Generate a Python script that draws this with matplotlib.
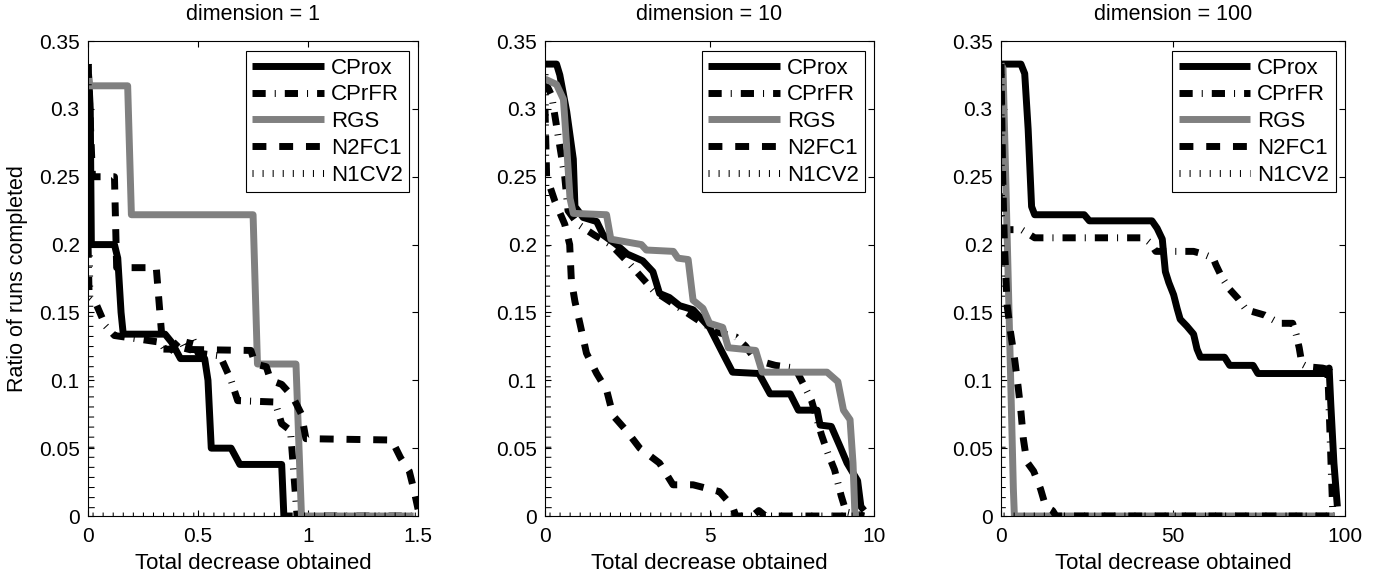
import matplotlib
matplotlib.use("Agg")
import matplotlib.pyplot as plt

plt.rcParams['font.family'] = ['Liberation Sans', 'DejaVu Sans']
plt.rcParams['font.size'] = 15

# ---- data: dimension = 1 ----
cprox_1_x = [0, 0.01, 0.015, 0.12, 0.135, 0.15, 0.16, 0.35, 0.38, 0.42, 0.53, 0.545, 0.56, 0.65, 0.69, 0.88, 0.89, 0.93]
cprox_1_y = [0.333, 0.30, 0.2, 0.2, 0.19, 0.15, 0.134, 0.134, 0.128, 0.116, 0.116, 0.1, 0.05, 0.05, 0.038, 0.038, 0.0, 0.0]
cprfr_1_x = [0, 0.005, 0.04, 0.08, 0.12, 0.33, 0.36, 0.42, 0.45, 0.47, 0.5, 0.6, 0.65, 0.68, 0.85, 0.88, 0.92, 0.95, 1.5]
cprfr_1_y = [0.2, 0.16, 0.155, 0.14, 0.133, 0.128, 0.12, 0.13, 0.12, 0.133, 0.12, 0.118, 0.1, 0.085, 0.084, 0.068, 0.063, 0.0, 0.0]
rgs_1_x = [0, 0.005, 0.18, 0.197, 0.75, 0.77, 0.945, 0.97, 1.48]
rgs_1_y = [0.33, 0.317, 0.317, 0.222, 0.222, 0.112, 0.112, 0.0, 0.0]
n2fc1_1_x = [0, 0.02, 0.12, 0.13, 0.31, 0.34, 0.74, 0.76, 0.81, 0.83, 0.88, 0.93, 0.97, 0.99, 1.38, 1.42, 1.46, 1.48, 1.5]
n2fc1_1_y = [0.333, 0.25, 0.25, 0.183, 0.183, 0.123, 0.122, 0.112, 0.11, 0.10, 0.097, 0.088, 0.075, 0.057, 0.056, 0.043, 0.033, 0.02, 0.005]
n1cv2_1_x = [0, 0.015, 1.5]
n1cv2_1_y = [0.333, 0.0, 0.0]

# ---- data: dimension = 10 ----
cprox_10_x = [0, 0.35, 0.45, 0.66, 0.86, 0.91, 1.16, 1.57, 1.77, 2.17, 2.5, 2.97, 3.28, 3.48, 3.78, 4.09, 4.5,
              5.0, 5.4, 5.7, 6.5, 6.84, 7.45, 7.7, 8.27, 8.36, 8.7, 8.97, 9.18, 9.5, 9.6, 9.7]
cprox_10_y = [0.333, 0.333, 0.325, 0.298, 0.263, 0.228, 0.22, 0.217, 0.207, 0.2, 0.193, 0.188, 0.18, 0.164, 0.161,
              0.155, 0.152, 0.139, 0.12, 0.106, 0.105, 0.09, 0.09, 0.078, 0.078, 0.067, 0.066, 0.051, 0.039, 0.026,
              0.007, 0.004]
cprfr_10_x = [0, 0.2, 0.4, 0.6, 0.7, 1.0, 1.5, 2.0, 2.6, 3.3, 3.8, 4.3, 4.8, 5.3, 5.8, 6.1, 6.4, 7.0, 7.6, 7.9,
              8.1, 8.4, 8.6, 8.8, 9.0, 9.15, 9.7]
cprfr_10_y = [0.32, 0.31, 0.28, 0.25, 0.225, 0.215, 0.207, 0.2, 0.185, 0.166, 0.158, 0.15, 0.142, 0.135, 0.132,
              0.125, 0.115, 0.111, 0.109, 0.095, 0.085, 0.06, 0.046, 0.034, 0.015, 0.003, 0.0]
rgs_10_x = [0, 0.35, 0.56, 0.66, 0.76, 0.86, 1.87, 2.0, 2.93, 3.08, 3.9, 4.04, 4.35, 4.5, 4.8, 5.0, 5.4, 5.57,
            6.4, 6.6, 8.57, 8.9, 9.07, 9.27, 9.36, 9.42, 9.6]
rgs_10_y = [0.322, 0.318, 0.307, 0.272, 0.234, 0.223, 0.222, 0.204, 0.2, 0.196, 0.195, 0.19, 0.189, 0.159, 0.153,
            0.142, 0.139, 0.124, 0.122, 0.106, 0.106, 0.099, 0.078, 0.071, 0.039, 0.0, 0.0]
n2fc1_10_x = [0, 0.05, 0.3, 0.6, 0.75, 0.8, 0.91, 1.06, 1.26, 1.57, 1.87, 2.07, 2.47, 2.88, 3.48, 3.89, 4.5, 5.3,
              5.7, 5.8, 6.3, 6.5, 6.7, 9.7]
n2fc1_10_y = [0.3, 0.25, 0.232, 0.215, 0.2, 0.174, 0.158, 0.142, 0.12, 0.105, 0.093, 0.074, 0.063, 0.05, 0.039,
              0.023, 0.023, 0.018, 0.007, 0.0, 0.0, 0.004, 0.0, 0.0]
n1cv2_10_x = [0, 0.1, 9.8]
n1cv2_10_y = [0.333, 0.0, 0.0]

# ---- data: dimension = 100 ----
cprox_100_x = [0, 5.8, 6.9, 7.9, 8.9, 9.8, 24.2, 25.7, 43.9, 45.4, 46.9, 47.3, 47.8, 48.8, 50.2, 51.2, 52.1, 54,
               56, 57, 58, 65, 66.5, 73.3, 74.7, 94.9, 95.4, 95.9, 96.8, 97.8]
cprox_100_y = [0.333, 0.333, 0.326, 0.285, 0.228, 0.222, 0.222, 0.2175, 0.2175, 0.212, 0.204, 0.193, 0.18, 0.172,
               0.163, 0.153, 0.145, 0.14, 0.134, 0.123, 0.117, 0.117, 0.111, 0.111, 0.105, 0.105, 0.109, 0.082,
               0.039, 0.007]
cprfr_100_x = [0, 0.5, 1, 6, 9.8, 41.5, 43.5, 45, 47.5, 56, 58.8, 61.7, 62.5, 64.2, 66.5, 69, 71.3, 76.7, 81,
               84.8, 85.8, 86.7, 87.5, 89, 93.5, 95, 96.5, 97]
cprfr_100_y = [0.333, 0.25, 0.211, 0.211, 0.205, 0.205, 0.201, 0.195, 0.195, 0.195, 0.193, 0.19, 0.185, 0.176,
               0.167, 0.16, 0.152, 0.148, 0.142, 0.142, 0.134, 0.124, 0.112, 0.11, 0.109, 0.108, 0.0, 0.0]
rgs_100_x = [0, 0.6, 3.6, 3.9, 97]
rgs_100_y = [0.333, 0.33, 0.02, 0.0, 0.0]
n2fc1_100_x = [0, 0.5, 1.0, 1.8, 2.8, 4, 5, 5.8, 6.5, 7.5, 9.5, 11.5, 13, 15, 16, 97]
n2fc1_100_y = [0.333, 0.25, 0.2, 0.155, 0.135, 0.115, 0.095, 0.077, 0.057, 0.04, 0.033, 0.02, 0.007, 0.004, 0.0, 0.0]
n1cv2_100_x = [0, 0.4, 97]
n1cv2_100_y = [0.333, 0.0, 0.0]

names = ['CProx', 'CPrFR', 'RGS', 'N2FC1', 'N1CV2']
titles = ['dimension = 1', 'dimension = 10', 'dimension = 100']
xlims = [1.5, 10, 100]
xticks = [[0, 0.5, 1, 1.5], [0, 5, 10], [0, 50, 100]]
xticklabels = [['0', '0.5', '1', '1.5'], ['0', '5', '10'], ['0', '50', '100']]
yticks = [0, 0.05, 0.1, 0.15, 0.2, 0.25, 0.3, 0.35]
yticklabels = ['0', '0.05', '0.1', '0.15', '0.2', '0.25', '0.3', '0.35']

panels = [
    [(cprox_1_x, cprox_1_y), (cprfr_1_x, cprfr_1_y), (rgs_1_x, rgs_1_y), (n2fc1_1_x, n2fc1_1_y), (n1cv2_1_x, n1cv2_1_y)],
    [(cprox_10_x, cprox_10_y), (cprfr_10_x, cprfr_10_y), (rgs_10_x, rgs_10_y), (n2fc1_10_x, n2fc1_10_y), (n1cv2_10_x, n1cv2_10_y)],
    [(cprox_100_x, cprox_100_y), (cprfr_100_x, cprfr_100_y), (rgs_100_x, rgs_100_y), (n2fc1_100_x, n2fc1_100_y), (n1cv2_100_x, n1cv2_100_y)],
]

line_styles = {
    'CProx': dict(color='black', ls='-'),
    'CPrFR': dict(color='black', ls=(0, (1.9, 1.3, 0.15, 1.3))),
    'RGS': dict(color='#808080', ls='-'),
    'N2FC1': dict(color='black', ls=(0, (2.0, 1.85))),
    'N1CV2': dict(color='black', ls=(0, (0.15, 1.3))),
}

fig = plt.figure(figsize=(13.78, 5.77), dpi=100)
axes_rects = [
    [0.0639, 0.1057, 0.2395, 0.8232],
    [0.3955, 0.1057, 0.2388, 0.8232],
    [0.7264, 0.1057, 0.2496, 0.8232],
]

for i, rect in enumerate(axes_rects):
    ax = fig.add_axes(rect)
    for name, (xs, ys) in zip(names, panels[i]):
        st = line_styles[name]
        ax.plot(xs, ys, color=st['color'], linestyle=st['ls'], lw=5, label=name,
                solid_joinstyle='round', dash_capstyle='butt', solid_capstyle='butt')
    ax.set_xlim(0, xlims[i])
    ax.set_ylim(0, 0.35)
    ax.set_xticks(xticks[i])
    ax.set_xticklabels(xticklabels[i])
    ax.set_yticks(yticks)
    ax.set_yticklabels(yticklabels)
    ax.tick_params(direction='in', top=True, right=True, length=4, width=0.8, labelsize=15)
    ax.tick_params(axis='x', pad=8)
    ax.tick_params(axis='y', pad=6)
    for sp in ax.spines.values():
        sp.set_linewidth(0.8)
    ax.set_title(titles[i], fontsize=15.5, pad=15)
    ax.set_xlabel('Total decrease obtained', fontsize=16, labelpad=5)
    if i == 0:
        ax.set_ylabel('Ratio of runs completed', fontsize=15.5, labelpad=8)
    leg = ax.legend(loc='upper right', bbox_to_anchor=(0.973, 0.979), borderaxespad=0,
                    fontsize=16, handlelength=3.2, handletextpad=0.32, labelspacing=0.26,
                    borderpad=0.3, fancybox=False, framealpha=1, edgecolor='black')
    leg.get_frame().set_linewidth(0.8)

fig.savefig('out.png', dpi=100)
